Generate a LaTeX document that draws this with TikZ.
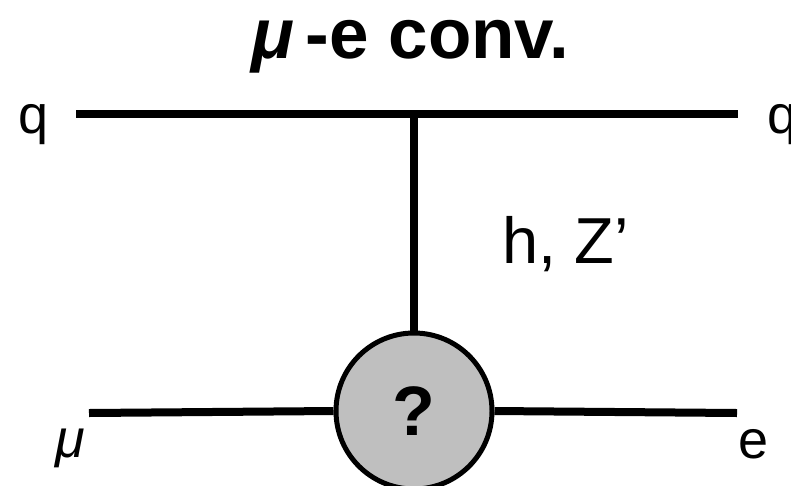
\documentclass[tikz,border=0pt]{standalone}
\usepackage{fontspec}
\setmainfont{Liberation Sans}
\begin{document}
\begin{tikzpicture}[x=1pt,y=-1pt,
  line/.style={line width=8pt},
  lbl/.style={inner sep=0pt,anchor=base west,font=\fontsize{54}{60}\selectfont},
  blob/.style={circle,draw,line width=5pt,fill=black!25,minimum size=156pt,inner sep=0pt,font=\fontsize{70}{80}\selectfont\bfseries}]
\useasboundingbox (0,0) rectangle (791,485);
\node[inner sep=0pt,anchor=base,font=\fontsize{71}{78}\selectfont\bfseries] (title) at (410,58) {\textit{μ}\,-e conv.};
\coordinate (qL) at (76,114);
\coordinate (qR) at (738,114);
\coordinate (v) at (414,114);
\coordinate (mL) at (89,413);
\coordinate (eR) at (737,413);
\node[blob] (b) at (414,411) {?};
\draw[line] (qL) -- (qR);
\draw[line] (v) -- (b.north);
\draw[line] (mL) -- (b.west);
\draw[line] (b.east) -- (eR);
\node[lbl] (ql) at (18,133) {q};
\node[lbl] (qr) at (767,133) {q};
\node[lbl] (mu) at (55,457) {\textit{μ}};
\node[lbl] (e) at (738,458) {e};
\node[lbl,font=\fontsize{65}{72}\selectfont] (hz) at (502,263) {h, Z’};
\end{tikzpicture}
\end{document}
